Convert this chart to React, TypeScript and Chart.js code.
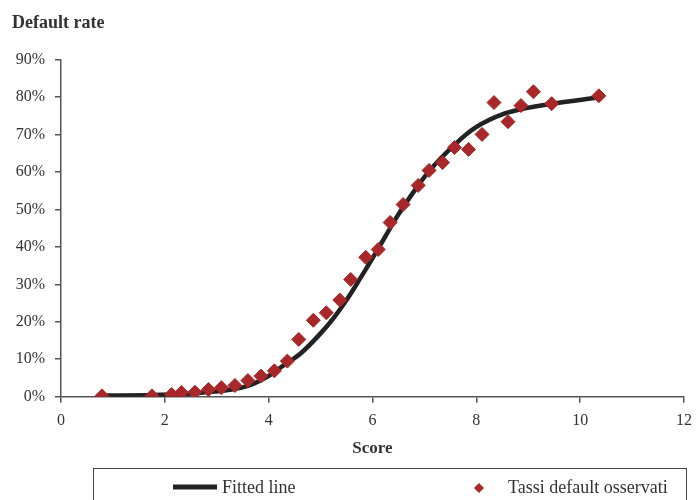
import React, { useEffect, useRef } from "react";
import { Chart, registerables } from "chart.js";

Chart.register(...registerables);

// ---- data ----
const observedScores = [0.79, 1.75, 2.13, 2.32, 2.58, 2.84, 3.09, 3.35, 3.6, 3.85, 4.11, 4.36, 4.58, 4.86, 5.11, 5.37, 5.58, 5.87, 6.11, 6.34, 6.59, 6.88, 7.09, 7.35, 7.58, 7.85, 8.11, 8.34, 8.61, 8.86, 9.1, 9.45, 10.36];
const observedRates = [0.2, 0.2, 0.6, 1.1, 1.2, 1.9, 2.4, 3.0, 4.3, 5.5, 6.9, 9.5, 15.3, 20.4, 22.4, 25.8, 31.3, 37.2, 39.3, 46.5, 51.3, 56.4, 60.4, 62.5, 66.5, 66.0, 70.0, 78.5, 73.4, 77.7, 81.4, 78.2, 80.3];

const fittedScores = [0.79, 1.79, 2.65, 3.6, 4.11, 4.23, 4.62, 5.0, 5.25, 5.5, 5.76, 6.01, 6.27, 6.46, 6.84, 7.09, 7.6, 7.98, 8.55, 8.99, 9.45, 10.32];
const fittedRates = [0.3, 0.45, 1.0, 2.9, 6.5, 7.8, 11.6, 16.9, 21.0, 25.8, 31.5, 37.2, 43.3, 47.8, 55.6, 60.2, 67.5, 71.8, 75.6, 77.1, 78.2, 79.8];

const xMin = 0;
const xMax = 12;
const xStep = 2;
const yMin = 0;
const yMax = 90;
const yStep = 10;

const yAxisTitle = "Default rate";
const xAxisTitle = "Score";
const fittedLabel = "Fitted line";
const observedLabel = "Tassi default osservati";

// ---- styles ----
const LINE_COLOR = "#222222";
const POINT_COLOR = "#A8282A";
const AXIS_COLOR = "#555555";
const TEXT_COLOR = "#333333";
const SERIF = "'Liberation Serif', 'Times New Roman', serif";

const decorPlugin = {
  id: "decor",
  afterDraw(chart: any) {
    const ctx = chart.ctx as CanvasRenderingContext2D;
    ctx.save();
    // top-left axis title
    ctx.fillStyle = TEXT_COLOR;
    ctx.font = `bold 18px ${SERIF}`;
    ctx.textAlign = "left";
    ctx.textBaseline = "alphabetic";
    ctx.fillText(yAxisTitle, 12, 28);

    // legend box
    ctx.strokeStyle = "#444444";
    ctx.lineWidth = 1;
    ctx.strokeRect(93.5, 468.5, 593, 40);

    // fitted line sample
    ctx.strokeStyle = LINE_COLOR;
    ctx.lineWidth = 5;
    ctx.beginPath();
    ctx.moveTo(173, 487);
    ctx.lineTo(217, 487);
    ctx.stroke();
    ctx.fillStyle = TEXT_COLOR;
    ctx.font = `18px ${SERIF}`;
    ctx.fillText(fittedLabel, 222, 493);

    // observed sample
    ctx.fillStyle = POINT_COLOR;
    ctx.beginPath();
    ctx.moveTo(479, 483);
    ctx.lineTo(484, 488);
    ctx.lineTo(479, 493);
    ctx.lineTo(474, 488);
    ctx.closePath();
    ctx.fill();
    ctx.fillStyle = TEXT_COLOR;
    ctx.fillText(observedLabel, 508, 493);
    ctx.restore();
  },
};

export default function App() {
  const ref = useRef<HTMLCanvasElement>(null);

  useEffect(() => {
    if (!ref.current) return;
    const chart = new Chart(ref.current, {
      type: "scatter",
      data: {
        datasets: [
          {
            label: fittedLabel,
            data: fittedScores.map((x, i) => ({ x, y: fittedRates[i] })),
            showLine: true,
            borderColor: LINE_COLOR,
            backgroundColor: LINE_COLOR,
            borderWidth: 4.5,
            pointRadius: 0,
            cubicInterpolationMode: "monotone",
            order: 2,
          },
          {
            label: observedLabel,
            data: observedScores.map((x, i) => ({ x, y: observedRates[i] })),
            showLine: false,
            pointStyle: "rectRot",
            pointRadius: 7,
            backgroundColor: POINT_COLOR,
            borderColor: POINT_COLOR,
            borderWidth: 1,
            order: 1,
          },
        ],
      } as any,
      options: {
        animation: false,
        responsive: false,
        maintainAspectRatio: false,
        layout: { padding: { top: 59.5, bottom: 33.3, left: 0, right: 9 } },
        plugins: {
          legend: { display: false },
          tooltip: { enabled: false },
          title: { display: false },
        },
        scales: {
          x: {
            type: "linear",
            min: xMin,
            max: xMax,
            afterFit: (s: any) => {
              s.height = 70;
            },
            ticks: {
              stepSize: xStep,
              color: TEXT_COLOR,
              padding: 8,
              font: { family: SERIF, size: 16 },
              maxRotation: 0,
            },
            grid: {
              drawOnChartArea: false,
              drawTicks: true,
              tickLength: 6,
              color: AXIS_COLOR,
              lineWidth: 1.5,
            },
            border: { color: AXIS_COLOR, width: 1.5 },
            title: {
              display: true,
              text: xAxisTitle,
              color: TEXT_COLOR,
              font: { family: SERIF, size: 17, weight: "bold" },
              padding: { top: 0, bottom: 8 },
            },
          },
          y: {
            type: "linear",
            min: yMin,
            max: yMax,
            afterFit: (s: any) => {
              s.width = 61;
            },
            ticks: {
              stepSize: yStep,
              color: TEXT_COLOR,
              padding: 10,
              font: { family: SERIF, size: 16 },
              callback: (v: any) => `${v}%`,
            },
            grid: {
              drawOnChartArea: false,
              drawTicks: true,
              tickLength: 6,
              color: AXIS_COLOR,
              lineWidth: 1.5,
            },
            border: { color: AXIS_COLOR, width: 1.5 },
          },
        },
      } as any,
      plugins: [decorPlugin],
    });
    return () => chart.destroy();
  }, []);

  return (
    <div style={{ position: "fixed", left: 0, top: 0, width: 700, height: 500, background: "#fff" }}>
      <canvas ref={ref} width={700} height={500} style={{ width: 700, height: 500 }} />
    </div>
  );
}
